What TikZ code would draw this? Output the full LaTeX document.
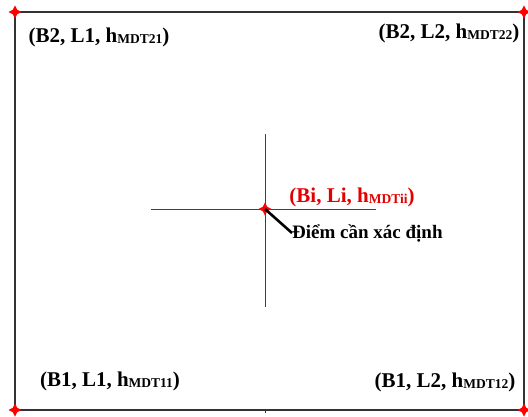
\documentclass[tikz,border=0pt]{standalone}
\usepackage{fontspec}
\setmainfont{Liberation Serif}
\newcommand{\mysub}[1]{\raisebox{-1.2pt}{\fontsize{13.5}{13.5}\selectfont #1}}
\begin{document}
\begin{tikzpicture}[x=1pt,y=-1pt,
  lab/.style={font=\fontsize{21}{22}\selectfont\bfseries, inner sep=0pt},
  note/.style={font=\fontsize{19}{20}\selectfont\bfseries, inner sep=0pt},
  frame/.style={draw=black!80, line width=1.3pt},
  axis/.style={draw=black!75, line width=0.9pt},
  marker/.style={fill=red, draw=none}]
\useasboundingbox (0,0) rectangle (528,416);
\fill[white] (0,0) rectangle (528,416);
\coordinate (tl) at (15,12);
\coordinate (tr) at (524,12);
\coordinate (bl) at (15,410);
\coordinate (br) at (524,410);
\coordinate (c) at (265,209);
\draw[frame] (tl) -- (tr) -- (br) -- (bl) -- cycle;
\draw[axis] (151,209) -- (376,209);
\draw[axis] (265,134) -- (265,307);
\draw[black!80, line width=0.8pt] (265,410) -- (265,413);
\foreach \p in {tl,tr,bl,br,c}{
  \fill[marker] (\p) ++(0,-6.5) -- ++(2.2,4.3) -- ++(4.3,2.2) -- ++(-4.3,2.2) -- ++(-2.2,4.3) -- ++(-2.2,-4.3) -- ++(-4.3,-2.2) -- ++(4.3,-2.2) -- cycle;
}
\node[lab] (l21) at (99,37) {(B2, L1, h\mysub{MDT21})};
\node[lab] (l22) at (449,33) {(B2, L2, h\mysub{MDT22})};
\node[lab] (l11) at (110,381) {(B1, L1, h\mysub{MDT11})};
\node[lab] (l12) at (445,382) {(B1, L2, h\mysub{MDT12})};
\node[lab, text=red!90!black] (lii) at (352,197) {(Bi, Li, h\mysub{MDTii})};
\node[note, anchor=west] (pt) at (292,233) {Điểm cần xác định};
\draw[black, line width=2.6pt] (c) -- (pt.west);
\end{tikzpicture}
\end{document}
